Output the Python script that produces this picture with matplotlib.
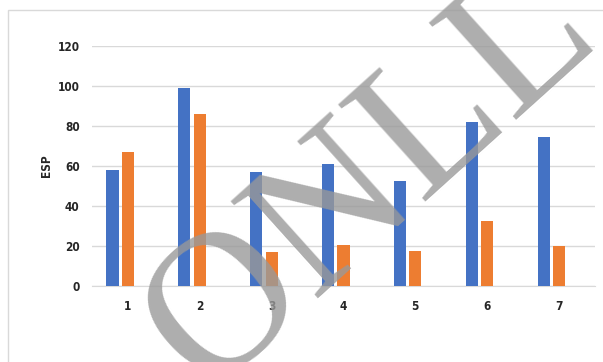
import numpy as np
import matplotlib.pyplot as plt
from matplotlib.patches import Rectangle

categories = ["1", "2", "3", "4", "5", "6", "7"]
series_blue = [58, 99, 57, 61, 52.5, 82, 74.5]
series_orange = [67, 86, 17, 20.5, 17.3, 32.5, 19.8]
y_ticks = [0, 20, 40, 60, 80, 100, 120]

plt.rcParams['font.family'] = ['DejaVu Sans']
plt.rcParams['font.stretch'] = 'condensed'

fig = plt.figure(figsize=(6.03, 3.62), dpi=100)
# chart frame
fig.patches.append(Rectangle((8 / 603, -0.1), 1.0, 1.1 - 10 / 362, transform=fig.transFigure,
                             fill=False, edgecolor='#d9d9d9', linewidth=1.0))

ax = fig.add_axes([92 / 603, (362 - 286) / 362, 503 / 603, 240 / 362])
x = np.arange(1, len(categories) + 1)
w = 0.17
ax.bar(x - 0.215, series_blue, width=w, color='#4472c4', zorder=3)
ax.bar(x, series_orange, width=w, color='#ed7d31', zorder=3)

ax.set_xlim(0.5, 7.5)
ax.set_ylim(0, 120)
ax.set_yticks(y_ticks)
ax.set_xticks(x)
ax.set_xticklabels(categories)
ax.grid(axis='y', color='#d9d9d9', linewidth=1.0, zorder=0)
ax.set_axisbelow(True)
for s in ['top', 'right', 'left']:
    ax.spines[s].set_visible(False)
ax.spines['bottom'].set_color('#d9d9d9')
ax.tick_params(length=0, labelsize=8.5, colors='#262626')
ax.tick_params(axis='y', pad=9)
ax.tick_params(axis='x', pad=10)
for lab in ax.get_xticklabels() + ax.get_yticklabels():
    lab.set_fontweight('bold')
ax.set_ylabel("ESP", fontsize=8.5, fontweight='bold', color='#262626', labelpad=3)

# watermark
fig.text(205 / 603, (362 - 393) / 362, "ONLL", fontsize=144, family='Liberation Serif',
         color='#999999', alpha=0.8, rotation=42, rotation_mode='anchor',
         ha='left', va='baseline', zorder=10)

fig.savefig("out.png", dpi=100)
